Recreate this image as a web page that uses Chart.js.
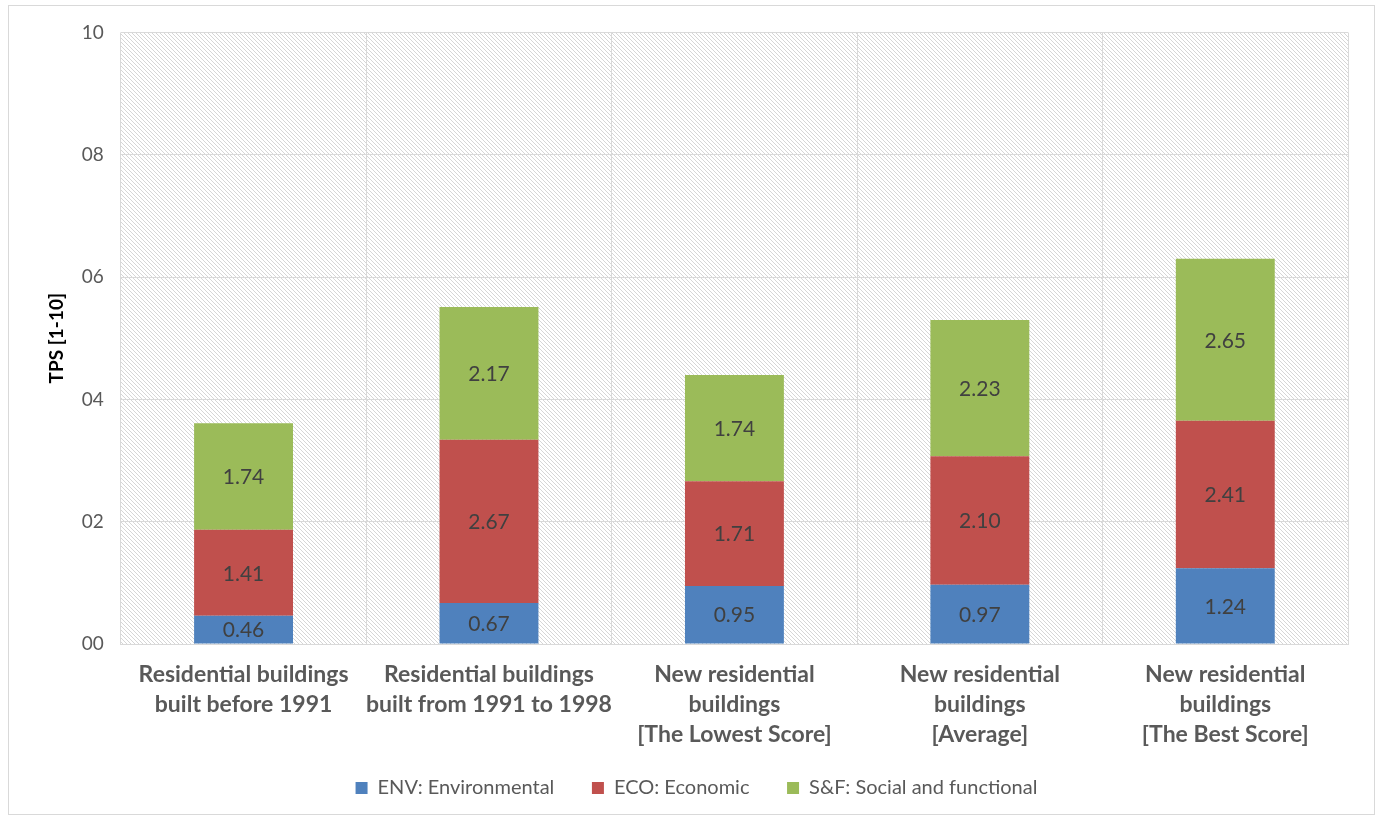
<!DOCTYPE html>
<html>
<head>
<meta charset="utf-8">
<script src="https://cdn.jsdelivr.net/npm/chart.js@4.4.0/dist/chart.umd.min.js"></script>
<style>
  html, body { margin: 0; padding: 0; background: #fff; }
  #wrap {
    position: absolute; left: 8px; top: 5px;
    width: 1365px; height: 808px;
    border: 1px solid #d9d9d9;
  }
</style>
</head>
<body>
<div id="wrap"><canvas id="chart"></canvas></div>
<script>
const categories = [
  ['Residential buildings', 'built before 1991'],
  ['Residential buildings', 'built from 1991 to 1998'],
  ['New residential', 'buildings', '[The Lowest Score]'],
  ['New residential', 'buildings', '[Average]'],
  ['New residential', 'buildings', '[The Best Score]'],
];
const seriesNames = ['ENV: Environmental', 'ECO: Economic', 'S&F: Social and functional'];
const envValues = [0.46, 0.67, 0.95, 0.97, 1.24];
const ecoValues = [1.41, 2.67, 1.71, 2.10, 2.41];
const sfValues = [1.74, 2.17, 1.74, 2.23, 2.65];
const yTicks = [0, 2, 4, 6, 8, 10];

const colors = ['#4F81BD', '#C0504D', '#9BBB59'];
const fontFamily = 'Lato, "Open Sans", sans-serif';

// diagonal hatch behind the plot area
function makeHatch(ctx) {
  const c = document.createElement('canvas');
  c.width = 4; c.height = 4;
  const g = c.getContext('2d');
  g.fillStyle = '#ffffff';
  g.fillRect(0, 0, 4, 4);
  g.strokeStyle = '#d6d6d6';
  g.lineWidth = 1;
  g.beginPath();
  g.moveTo(-1, -1); g.lineTo(5, 5);
  g.moveTo(-1, 3); g.lineTo(1, 5);
  g.moveTo(3, -1); g.lineTo(5, 1);
  g.stroke();
  return ctx.createPattern(c, 'repeat');
}

const hatchBackground = {
  id: 'hatchBackground',
  beforeDraw(chart) {
    const { ctx, chartArea } = chart;
    ctx.save();
    ctx.fillStyle = makeHatch(ctx);
    ctx.fillRect(chartArea.left, chartArea.top, chartArea.right - chartArea.left, chartArea.bottom - chartArea.top);
    ctx.restore();
  },
};

const barValueLabels = {
  id: 'barValueLabels',
  afterDatasetsDraw(chart) {
    const { ctx } = chart;
    ctx.save();
    ctx.font = '21px ' + fontFamily;
    ctx.fillStyle = '#404040';
    ctx.textAlign = 'center';
    ctx.textBaseline = 'middle';
    chart.data.datasets.forEach((ds, i) => {
      chart.getDatasetMeta(i).data.forEach((bar, j) => {
        const mid = (bar.y + bar.base) / 2;
        ctx.fillText(ds.data[j].toFixed(2), bar.x, mid + 1);
      });
    });
    ctx.restore();
  },
};

const allSeries = [envValues, ecoValues, sfValues];

new Chart(document.getElementById('chart'), {
  type: 'bar',
  data: {
    labels: categories,
    datasets: allSeries.map((vals, i) => ({
      label: seriesNames[i],
      data: vals,
      backgroundColor: colors[i],
      borderWidth: 0,
      categoryPercentage: 1,
      barPercentage: 0.403,
    })),
  },
  plugins: [hatchBackground, barValueLabels],
  options: {
    responsive: true,
    maintainAspectRatio: false,
    animation: false,
    layout: { padding: { top: 26, right: 26, bottom: 6, left: 36 } },
    plugins: {
      tooltip: { enabled: false },
      legend: {
        position: 'bottom',
        labels: {
          boxWidth: 12,
          boxHeight: 12,
          padding: 12,
          color: '#595959',
          font: { family: fontFamily, size: 20 },
          generateLabels(chart) {
            const items = Chart.defaults.plugins.legend.labels.generateLabels(chart);
            // wider gap between entries, as in the original
            items.forEach((it, i) => { if (i < items.length - 1) it.text += '     '; });
            return items;
          },
        },
      },
    },
    scales: {
      x: {
        stacked: true,
        grid: { color: '#d9d9d9', drawTicks: false },
        border: { color: '#d9d9d9' },
        ticks: {
          color: '#595959',
          padding: 16,
          maxRotation: 0,
          autoSkip: false,
          font: { family: fontFamily, size: 23, weight: 'bold', lineHeight: '30px' },
        },
      },
      y: {
        stacked: true,
        min: 0,
        max: 10,
        afterBuildTicks(scale) { scale.ticks = yTicks.map((v) => ({ value: v })); },
        grid: { color: '#d9d9d9', drawTicks: false },
        border: { display: false },
        ticks: {
          color: '#595959',
          padding: 17,
          font: { family: fontFamily, size: 19, lineHeight: 1 },
          callback: (v) => String(v).padStart(2, '0'),
        },
        title: {
          display: true,
          text: 'TPS [1-10]',
          color: '#000000',
          padding: { top: 0, bottom: -3 },
          font: { family: fontFamily, size: 19, weight: 'bold' },
        },
      },
    },
  },
});
</script>
</body>
</html>
